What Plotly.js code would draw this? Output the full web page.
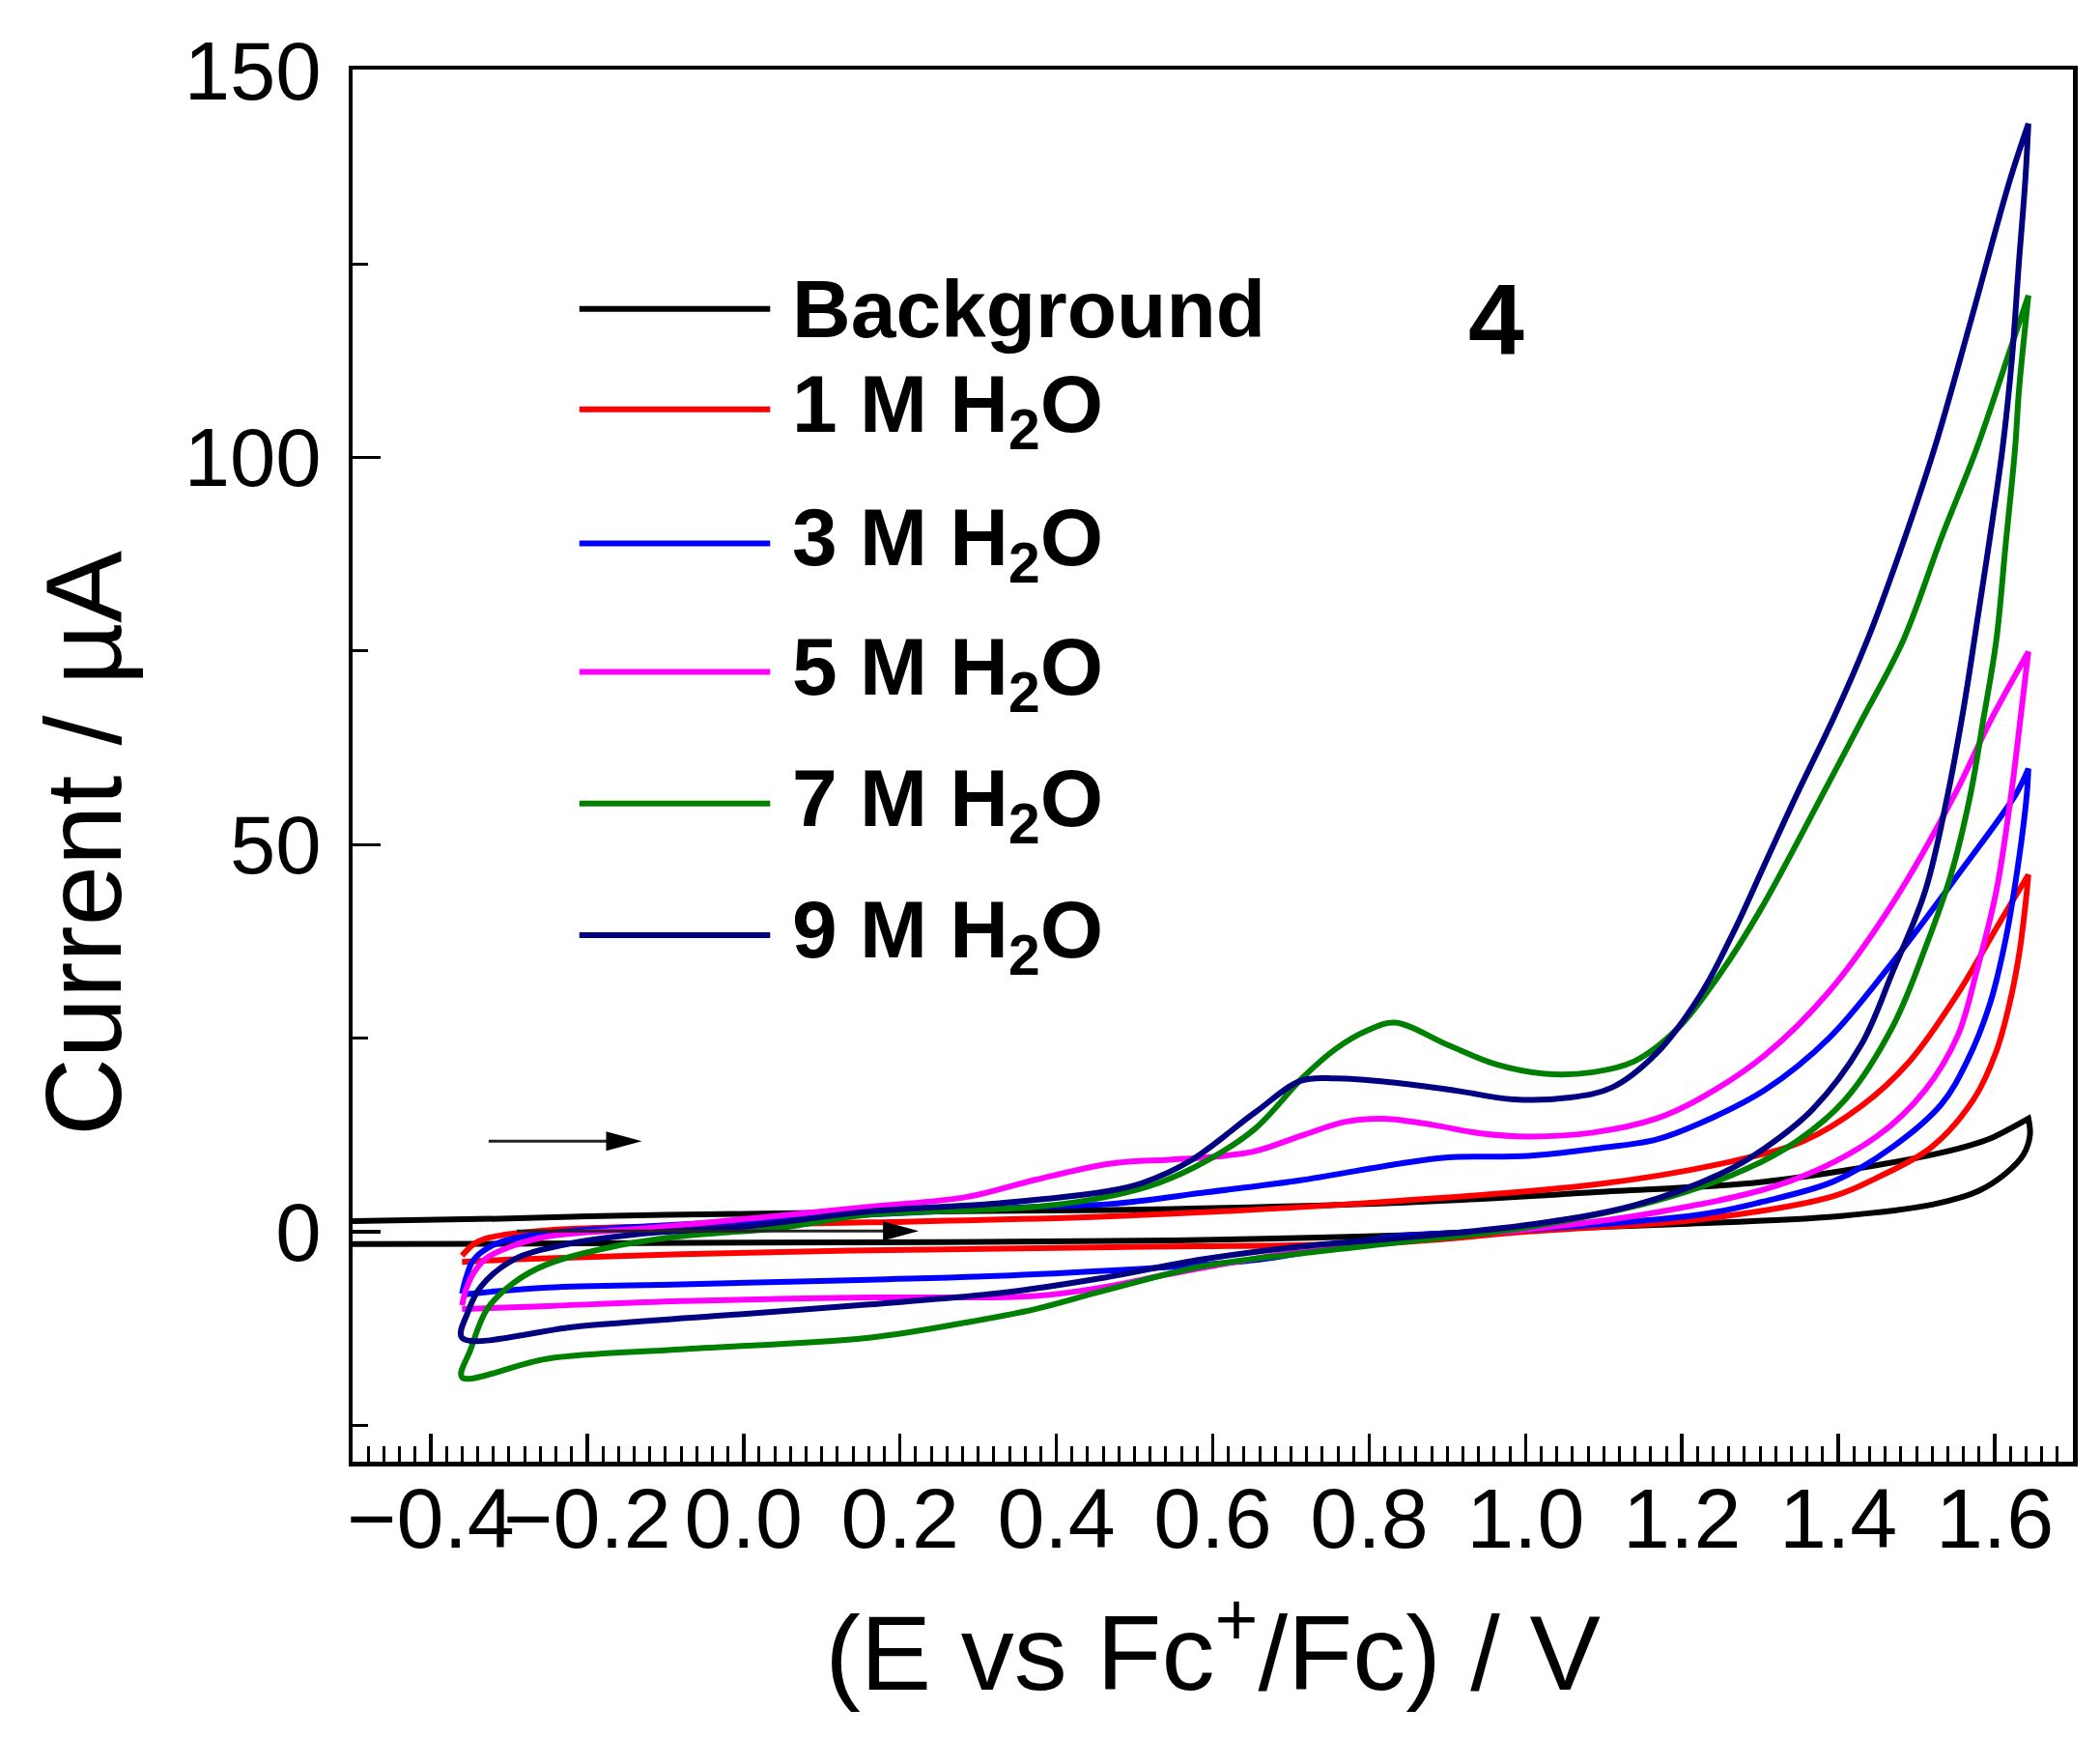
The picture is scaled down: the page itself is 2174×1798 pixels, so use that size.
<!DOCTYPE html>
<html>
<head>
<meta charset="utf-8">
<script src="https://cdn.plot.ly/plotly-3.0.1.min.js"></script>
<style>
  body { margin: 0; background: white; }
  #cv { width: 2174px; height: 1798px; }
</style>
</head>
<body>
<div id="cv"></div>
<script>
// potentials (V vs Fc+/Fc) and currents (uA), forward scan then reverse scan

// Background
var bgFwdV = [-0.55, -0.3, -0.15, 0.0, 0.2, 0.47, 0.83, 1.09, 1.3, 1.45, 1.54, 1.576, 1.6, 1.643];
var bgFwdI = [1.3, 1.7, 2.1, 2.3, 2.6, 2.8, 3.7, 5.1, 6.4, 8.6, 10.4, 11.4, 12.3, 14.6];
var bgRevV = [1.643, 1.645, 1.637, 1.615, 1.58, 1.52, 1.4, 1.2, 1.0, 0.83, 0.47, 0.0, -0.3, -0.55];
var bgRevI = [14.6, 12.5, 10.0, 7.6, 5.3, 3.5, 2.0, 1.0, 0.3, -0.5, -1.2, -1.4, -1.55, -1.6];

// 1 M H2O
var m1FwdV = [-0.36, -0.345, -0.33, -0.3, -0.25, -0.15, 0.0, 0.16, 0.47, 0.78, 1.09, 1.26, 1.355, 1.429, 1.491, 1.553, 1.606, 1.643];
var m1FwdI = [-3.1, -1.6, -0.9, -0.3, 0.2, 0.6, 0.9, 1.2, 2.0, 3.6, 6.1, 9.0, 11.7, 16.2, 22.0, 30.8, 39.9, 46.1];
var m1RevV = [1.643, 1.639, 1.631, 1.619, 1.602, 1.573, 1.52, 1.45, 1.394, 1.223, 1.0, 0.83, 0.47, 0.16, -0.08, -0.21, -0.3, -0.36];
var m1RevI = [46.1, 42.0, 35.7, 29.5, 23.3, 17.1, 11.0, 7.0, 4.6, 1.6, 0.0, -1.4, -2.0, -2.4, -2.9, -3.3, -3.6, -3.9];

// 3 M H2O
var m3FwdV = [-0.36, -0.355, -0.345, -0.315, -0.25, -0.12, 0.16, 0.37, 0.47, 0.593, 0.716, 0.839, 0.901, 1.004, 1.086, 1.167, 1.223, 1.306, 1.388, 1.47, 1.553, 1.627, 1.643];
var m3FwdI = [-8.0, -6.0, -3.6, -1.5, -0.2, 0.7, 2.2, 3.2, 3.6, 5.1, 6.7, 8.8, 9.6, 9.8, 10.7, 11.9, 14.0, 18.3, 25.0, 34.9, 46.1, 56.5, 59.8];
var m3RevV = [1.643, 1.641, 1.631, 1.614, 1.594, 1.565, 1.532, 1.47, 1.394, 1.3, 1.223, 0.997, 0.827, 0.66, 0.373, 0.16, -0.08, -0.25, -0.36];
var m3RevI = [59.8, 56.5, 48.2, 37.8, 29.5, 22.1, 16.5, 11.0, 6.5, 3.8, 2.2, 0.25, -0.7, -3.6, -5.5, -6.2, -6.8, -7.2, -8.1];

// 5 M H2O
var m5FwdV = [-0.36, -0.355, -0.345, -0.33, -0.3, -0.25, -0.12, 0.16, 0.286, 0.373, 0.469, 0.543, 0.593, 0.654, 0.716, 0.77, 0.819, 0.881, 0.943, 1.004, 1.086, 1.167, 1.223, 1.306, 1.388, 1.47, 1.549, 1.594, 1.643];
var m5FwdI = [-9.5, -7.5, -5.3, -3.5, -2.0, -0.6, 0.5, 3.2, 4.5, 6.7, 8.8, 9.3, 9.6, 10.4, 12.5, 14.2, 14.6, 13.8, 12.7, 12.3, 12.8, 14.6, 17.2, 22.8, 31.0, 42.5, 56.5, 65.9, 74.9];
var m5RevV = [1.643, 1.635, 1.621, 1.602, 1.577, 1.553, 1.511, 1.449, 1.337, 1.167, 0.997, 0.827, 0.67, 0.543, 0.458, 0.373, 0.16, -0.08, -0.25, -0.36];
var m5RevI = [74.9, 68.1, 56.5, 44.0, 33.7, 25.4, 18.3, 12.3, 6.5, 2.5, 0.25, -1.0, -3.2, -5.5, -7.2, -8.3, -8.5, -8.95, -9.6, -10.0];

// 7 M H2O
var m7FwdV = [-0.36, -0.349, -0.328, -0.294, -0.251, -0.166, -0.081, 0.047, 0.16, 0.373, 0.469, 0.531, 0.593, 0.654, 0.716, 0.757, 0.798, 0.833, 0.901, 0.963, 1.025, 1.086, 1.139, 1.195, 1.25, 1.3, 1.38, 1.429, 1.483, 1.532, 1.577, 1.619, 1.643];
var m7FwdI = [-18.8, -15.2, -10.0, -6.6, -4.2, -1.9, -0.6, 0.5, 2.2, 3.2, 4.6, 6.3, 9.2, 13.3, 20.0, 23.6, 26.0, 27.0, 24.1, 21.6, 20.4, 20.6, 22.0, 26.3, 33.5, 41.5, 56.5, 65.9, 76.4, 89.7, 101.2, 113.7, 120.9];
var m7RevV = [1.643, 1.639, 1.631, 1.626, 1.614, 1.602, 1.585, 1.569, 1.544, 1.511, 1.47, 1.409, 1.347, 1.28, 1.167, 0.997, 0.827, 0.713, 0.585, 0.458, 0.373, 0.286, 0.16, -0.081, -0.251, -0.36];
var m7RevI = [120.9, 117.0, 108.7, 101.2, 88.8, 76.4, 65.9, 56.5, 46.1, 36.6, 26.6, 17.1, 11.7, 8.0, 4.0, 0.5, -1.5, -2.8, -4.5, -7.7, -10.0, -11.7, -13.7, -15.2, -16.4, -18.8];

// 9 M H2O
var m9FwdV = [-0.36, -0.353, -0.336, -0.294, -0.23, -0.124, 0.004, 0.16, 0.33, 0.469, 0.51, 0.572, 0.654, 0.713, 0.757, 0.827, 0.912, 0.984, 1.054, 1.11, 1.167, 1.223, 1.265, 1.306, 1.347, 1.396, 1.437, 1.478, 1.523, 1.569, 1.619, 1.643];
var m9FwdI = [-13.7, -10.5, -7.1, -3.6, -1.7, -0.2, 0.7, 2.6, 3.7, 5.3, 6.3, 9.2, 15.4, 19.5, 19.8, 19.3, 18.2, 17.1, 17.3, 18.6, 23.0, 30.5, 38.5, 47.5, 56.5, 66.8, 76.4, 87.6, 101.2, 117.5, 135.7, 143.1];
var m9RevV = [1.643, 1.639, 1.631, 1.622, 1.61, 1.594, 1.577, 1.561, 1.54, 1.511, 1.47, 1.429, 1.367, 1.306, 1.252, 1.139, 0.997, 0.827, 0.713, 0.585, 0.458, 0.33, 0.16, -0.038, -0.209, -0.36];
var m9RevI = [143.1, 135.7, 125.3, 112.8, 101.2, 89.8, 78.5, 68.1, 56.5, 44.0, 33.7, 24.1, 15.8, 10.8, 7.6, 3.4, 0.8, -0.9, -1.9, -3.6, -6.0, -7.9, -9.4, -10.9, -12.2, -13.7];

var seriesNames = ["Background", "1 M H<sub>2</sub>O", "3 M H<sub>2</sub>O", "5 M H<sub>2</sub>O", "7 M H<sub>2</sub>O", "9 M H<sub>2</sub>O"];
var seriesColors = ["#000000", "#FF0000", "#0000FF", "#FF00FF", "#008000", "#000080"];
var legendY = [119.2, 106.2, 88.9, 72.3, 55.3, 38.3];

// scan direction arrows: [tail V, tip V, current]
var arrowUpper = [-0.326, -0.13, 11.7];
var arrowZero = [-0.29, 0.224, 0.1];

var scans = [
    [bgFwdV, bgFwdI, bgRevV, bgRevI],
    [m1FwdV, m1FwdI, m1RevV, m1RevI],
    [m3FwdV, m3FwdI, m3RevV, m3RevI],
    [m5FwdV, m5FwdI, m5RevV, m5RevI],
    [m7FwdV, m7FwdI, m7RevV, m7RevI],
    [m9FwdV, m9FwdI, m9RevV, m9RevI]
];

var data = [];
var shapes = [];
var annotations = [];

scans.forEach(function (s, k) {
    data.push({
        x: s[0].concat(s[2]),
        y: s[1].concat(s[3]),
        type: 'scatter',
        mode: 'lines',
        line: {color: seriesColors[k], width: 6, shape: 'spline', smoothing: 1.0},
        showlegend: false,
        hoverinfo: 'skip'
    });
    // hand-made legend, like the original figure
    shapes.push({
        type: 'line', xref: 'x', yref: 'y',
        x0: -0.21, x1: 0.034, y0: legendY[k], y1: legendY[k],
        line: {color: seriesColors[k], width: 6}
    });
    annotations.push({
        xref: 'x', yref: 'y', x: 0.06, y: legendY[k],
        xanchor: 'left', yanchor: 'middle',
        text: seriesNames[k], showarrow: false,
        font: {family: 'Liberation Sans, Arial, sans-serif', size: 84, color: 'black', weight: 'bold'}
    });
});

[arrowUpper, arrowZero].forEach(function (a) {
    shapes.push({
        type: 'line', xref: 'x', yref: 'y',
        x0: a[0], x1: a[1] - 0.03, y0: a[2], y1: a[2],
        line: {color: '#222', width: 3}
    });
    // slim filled head, sized in pixels at the tip
    shapes.push({
        type: 'path', xref: 'x', yref: 'y',
        xsizemode: 'pixel', ysizemode: 'pixel',
        xanchor: a[1], yanchor: a[2],
        path: 'M0,0 L-37,10 L-37,-10 Z',
        fillcolor: 'black',
        line: {width: 0}
    });
});

// panel number
annotations.push({
    xref: 'x', yref: 'y', x: 0.963, y: 117.8,
    text: '4', showarrow: false,
    font: {family: 'Liberation Sans, Arial, sans-serif', size: 104, color: 'black', weight: 'bold'}
});

// y title placed by hand (it sits lower than the plot centre)
annotations.push({
    xref: 'paper', yref: 'paper', x: -0.1567, y: 0.444,
    xanchor: 'center', yanchor: 'middle', textangle: -90,
    text: 'Current / µA', showarrow: false,
    font: {family: 'Liberation Sans, Arial, sans-serif', size: 112, color: 'black'}
});

var layout = {
    width: 2174,
    height: 1798,
    paper_bgcolor: 'white',
    plot_bgcolor: 'white',
    margin: {l: 365, r: 28, t: 72, b: 285},
    showlegend: false,
    font: {family: 'Liberation Sans, Arial, sans-serif', color: 'black'},
    xaxis: {
        range: [-0.5, 1.7],
        dtick: 0.2,
        tick0: 0,
        tickformat: '.1f',
        ticks: 'inside',
        ticklen: 29,
        tickwidth: 3.5,
        tickcolor: 'black',
        minor: {dtick: 0.02, ticks: 'inside', ticklen: 16, tickwidth: 3, tickcolor: 'black'},
        showline: true,
        linewidth: 4.5,
        linecolor: 'black',
        mirror: true,
        showgrid: false,
        zeroline: false,
        tickangle: 0,
        tickfont: {family: 'Liberation Sans, Arial, sans-serif', size: 88, color: 'black'},
        ticklabelstandoff: -21,
        title: {
            text: '(E vs Fc<sup>+</sup>/Fc) / V',
            font: {family: 'Liberation Sans, Arial, sans-serif', size: 110, color: 'black'},
            standoff: 53
        }
    },
    yaxis: {
        range: [-29.7, 150.1],
        dtick: 50,
        tick0: 0,
        ticks: 'inside',
        ticklen: 29,
        tickwidth: 3.5,
        tickcolor: 'black',
        minor: {dtick: 25, ticks: 'inside', ticklen: 16, tickwidth: 3, tickcolor: 'black'},
        showline: true,
        linewidth: 4.5,
        linecolor: 'black',
        mirror: true,
        showgrid: false,
        zeroline: false,
        tickfont: {family: 'Liberation Sans, Arial, sans-serif', size: 85, color: 'black'},
        ticklabelstandoff: 11
    },
    shapes: shapes,
    annotations: annotations
};

Plotly.newPlot('cv', data, layout, {displayModeBar: false, staticPlot: true});
</script>
</body>
</html>
